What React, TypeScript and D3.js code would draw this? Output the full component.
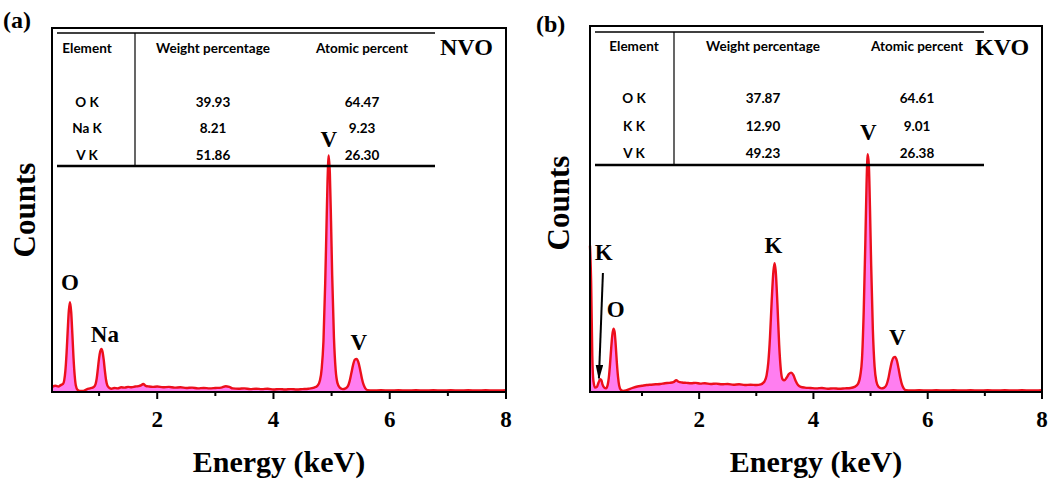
import React from 'react';
import * as d3 from 'd3';

// ---------- data ----------
const nvoSpectrum: [number, number][] = [
  [0.19, 1.4], [0.25, 1.7], [0.30, 1.5], [0.34, 1.9], [0.38, 2.2], [0.40, 3.2], [0.42, 5.8], [0.44, 10.5],
  [0.46, 16.8], [0.48, 22.4], [0.50, 24.7], [0.52, 22.0], [0.54, 16.0], [0.56, 9.4], [0.58, 4.6], [0.60, 1.8],
  [0.63, 0.6], [0.67, 0.3], [0.72, 0.3], [0.77, 0.6], [0.82, 0.9], [0.87, 1.1], [0.91, 1.4], [0.94, 2.2],
  [0.96, 3.8], [0.98, 6.5], [1.00, 9.3], [1.02, 11.2], [1.04, 11.8], [1.06, 11.0], [1.08, 8.8], [1.10, 5.8],
  [1.12, 3.3], [1.14, 1.9], [1.17, 1.2], [1.21, 0.9], [1.26, 1.1], [1.32, 1.0], [1.38, 1.3], [1.44, 1.2],
  [1.50, 1.4], [1.56, 1.3], [1.62, 1.5], [1.68, 1.6], [1.72, 1.8], [1.76, 2.2], [1.80, 1.7], [1.86, 1.5],
  [1.92, 1.4], [2.00, 1.5], [2.10, 1.3], [2.20, 1.4], [2.30, 1.2], [2.40, 1.3], [2.50, 1.1], [2.60, 1.2],
  [2.70, 1.0], [2.80, 1.1], [2.90, 1.0], [3.00, 1.1], [3.10, 1.2], [3.18, 1.6], [3.24, 1.4], [3.30, 1.0],
  [3.40, 0.9], [3.50, 1.0], [3.60, 0.8], [3.70, 0.9], [3.80, 0.8], [3.90, 0.9], [4.00, 0.7], [4.10, 0.8],
  [4.20, 0.7], [4.30, 0.8], [4.40, 0.7], [4.50, 0.8], [4.60, 0.9], [4.70, 1.2], [4.76, 1.8], [4.80, 3.2],
  [4.83, 6.5], [4.86, 14], [4.89, 30], [4.91, 44], [4.93, 58], [4.95, 65], [4.97, 60], [4.99, 47],
  [5.01, 32], [5.04, 15], [5.07, 6], [5.10, 2.5], [5.14, 1.2], [5.19, 0.8], [5.24, 1.0], [5.28, 1.6],
  [5.31, 3.0], [5.34, 5.2], [5.37, 7.5], [5.40, 8.9], [5.43, 9.1], [5.46, 8.2], [5.49, 6.2], [5.52, 3.8],
  [5.55, 2.0], [5.58, 1.0], [5.62, 0.5], [5.70, 0.4], [5.85, 0.5], [6.00, 0.4], [6.15, 0.5], [6.30, 0.4],
  [6.45, 0.5], [6.60, 0.4], [6.75, 0.5], [6.90, 0.4], [7.05, 0.5], [7.20, 0.4], [7.35, 0.5], [7.50, 0.4],
  [7.65, 0.5], [7.80, 0.4], [8.00, 0.5],
];

const kvoSpectrum: [number, number][] = [
  [0.09, 40], [0.11, 30], [0.13, 10], [0.15, 3], [0.18, 1.2], [0.21, 1.4], [0.24, 2.6], [0.27, 3.5],
  [0.29, 3.2], [0.31, 2.0], [0.34, 1.2], [0.37, 1.0], [0.40, 2.0], [0.42, 4.0], [0.44, 7.5], [0.46, 11.8],
  [0.48, 15.5], [0.50, 17.3], [0.52, 16.5], [0.54, 12.8], [0.56, 8.0], [0.58, 4.2], [0.60, 1.8], [0.63, 0.6],
  [0.67, 0.3], [0.72, 0.4], [0.78, 0.8], [0.85, 1.2], [0.92, 1.5], [1.00, 1.7], [1.08, 1.9], [1.16, 2.0],
  [1.24, 2.1], [1.32, 2.2], [1.40, 2.4], [1.48, 2.5], [1.55, 2.7], [1.60, 3.2], [1.64, 2.8], [1.70, 2.6],
  [1.78, 2.5], [1.86, 2.4], [1.94, 2.5], [2.02, 2.3], [2.10, 2.4], [2.20, 2.2], [2.30, 2.3], [2.40, 2.1],
  [2.50, 2.2], [2.60, 2.0], [2.70, 2.1], [2.80, 1.9], [2.90, 2.0], [3.00, 1.9], [3.08, 2.1], [3.14, 2.8],
  [3.18, 4.5], [3.21, 8], [3.24, 15], [3.27, 25], [3.30, 33], [3.32, 35.2], [3.34, 33], [3.37, 24],
  [3.40, 13], [3.43, 6], [3.46, 3.5], [3.49, 3.2], [3.53, 3.9], [3.57, 4.9], [3.61, 5.3], [3.65, 4.6],
  [3.69, 3.0], [3.73, 1.9], [3.78, 1.4], [3.85, 1.2], [3.95, 1.1], [4.05, 1.0], [4.15, 1.1], [4.25, 0.9],
  [4.35, 1.0], [4.45, 0.9], [4.55, 1.0], [4.65, 1.1], [4.72, 1.4], [4.78, 2.2], [4.82, 4.5], [4.85, 9],
  [4.88, 22], [4.91, 42], [4.93, 57], [4.95, 65], [4.97, 62], [4.99, 50], [5.01, 35], [5.04, 17],
  [5.07, 7], [5.10, 3], [5.14, 1.4], [5.19, 1.0], [5.24, 1.2], [5.28, 2.0], [5.31, 3.6], [5.34, 6.0],
  [5.37, 8.2], [5.40, 9.4], [5.43, 9.6], [5.46, 8.6], [5.49, 6.4], [5.52, 3.9], [5.55, 2.0], [5.58, 1.0],
  [5.62, 0.5], [5.70, 0.4], [5.85, 0.5], [6.00, 0.4], [6.15, 0.5], [6.30, 0.4], [6.45, 0.5], [6.60, 0.4],
  [6.75, 0.5], [6.90, 0.4], [7.05, 0.5], [7.20, 0.4], [7.35, 0.5], [7.50, 0.4], [7.65, 0.5], [7.80, 0.4],
  [8.00, 0.5],
];

const xMajorTicks = [2, 4, 6, 8];
const xMinorTicks = [1, 3, 5, 7];
const tableHeaders = ['Element', 'Weight percentage', 'Atomic percent'];

const nvoElements = ['O K', 'Na K', 'V K'];
const nvoWeight = ['39.93', '8.21', '51.86'];
const nvoAtomic = ['64.47', '9.23', '26.30'];

const kvoElements = ['O K', 'K K', 'V K'];
const kvoWeight = ['37.87', '12.90', '49.23'];
const kvoAtomic = ['64.61', '9.01', '26.38'];

// peak annotations: text, energy (keV), counts level of text baseline
const nvoPeakLabels = [
  { text: 'O', e: 0.5, c: 28 },
  { text: 'Na', e: 1.1, c: 13.7 },
  { text: 'V', e: 4.95, c: 67.3 },
  { text: 'V', e: 5.47, c: 11.5 },
];
const kvoPeakLabels = [
  { text: 'K', e: 0.33, c: 36 },
  { text: 'O', e: 0.54, c: 20.5 },
  { text: 'K', e: 3.3, c: 38 },
  { text: 'V', e: 4.96, c: 68.9 },
  { text: 'V', e: 5.47, c: 12.8 },
];
const kvoArrows = [{ e0: 0.316, c0: 32.5, e1: 0.246, c1: 3.8 }];

// ---------- layout ----------
const SERIF = '"Liberation Serif", "Times New Roman", serif';
const SANS = 'Lato, "Open Sans", sans-serif';
const LINE = '#ec0f1c';
const FILL = '#ff7ef0';
const TFS = 13.5;

type PanelProps = {
  tag: string;
  tagX: number;
  tagY: number;
  left: number;
  right: number;
  top: number;
  bottom: number;
  xMin: number;
  spectrum: [number, number][];
  labels: { text: string; e: number; c: number }[];
  arrows: { e0: number; c0: number; e1: number; c1: number }[];
  sample: string;
  sampleX: number;
  table: {
    x0: number; x1: number; topY: number; botY: number; divX: number;
    colX: number[]; headerY: number; rowY: number[];
    elements: string[]; weight: string[]; atomic: string[];
  };
  countsX: number;
  countsY: number;
};

function Panel(p: PanelProps) {
  const x = d3.scaleLinear().domain([p.xMin, 8]).range([p.left, p.right]);
  const y = d3.scaleLinear().domain([0, 100]).range([p.bottom, p.top]);
  const area = d3.area<[number, number]>()
    .x(d => x(d[0])).y0(y(0)).y1(d => y(d[1])).curve(d3.curveMonotoneX);
  const line = d3.line<[number, number]>()
    .x(d => x(d[0])).y(d => y(d[1])).curve(d3.curveMonotoneX);
  const t = p.table;
  const cx = (p.left + p.right) / 2;
  return (
    <g>
      <path d={area(p.spectrum) || ''} fill={FILL} stroke="none" />
      <path d={line(p.spectrum) || ''} fill="none" stroke={LINE} strokeWidth={2.4} strokeLinejoin="round" />
      {/* frame */}
      <rect x={p.left} y={p.top} width={p.right - p.left} height={p.bottom - p.top} fill="none" stroke="#000" strokeWidth={2} />
      {xMajorTicks.map(v => (
        <g key={'M' + v}>
          <line x1={x(v)} x2={x(v)} y1={p.bottom} y2={p.bottom + 7} stroke="#000" strokeWidth={2} />
          <text x={x(v)} y={427} textAnchor="middle" fontFamily={SERIF} fontWeight="bold" fontSize={23}>{v}</text>
        </g>
      ))}
      {xMinorTicks.map(v => (
        <line key={'m' + v} x1={x(v)} x2={x(v)} y1={p.bottom} y2={p.bottom + 4} stroke="#000" strokeWidth={2} />
      ))}
      <text x={cx} y={472} textAnchor="middle" fontFamily={SERIF} fontWeight="bold" fontSize={30}>Energy (keV)</text>
      <text transform={`translate(${p.countsX},${p.countsY}) rotate(-90)`} textAnchor="middle" fontFamily={SERIF} fontWeight="bold" fontSize={31}>Counts</text>
      <text x={p.tagX} y={p.tagY} fontFamily={SERIF} fontWeight="bold" fontSize={24}>{p.tag}</text>
      {/* table */}
      <line x1={t.x0} x2={t.x1} y1={t.topY} y2={t.topY} stroke="#000" strokeWidth={1.6} />
      <line x1={t.x0} x2={t.x1} y1={t.botY} y2={t.botY} stroke="#000" strokeWidth={2.4} />
      <line x1={t.divX} x2={t.divX} y1={t.topY} y2={t.botY} stroke="#000" strokeWidth={1.2} />
      {tableHeaders.map((h, i) => (
        <text key={h} x={t.colX[i]} y={t.headerY} textAnchor="middle" fontFamily={SANS} fontWeight={700} fontSize={TFS}>{h}</text>
      ))}
      {t.elements.map((el, r) => (
        <g key={el}>
          <text x={t.colX[0]} y={t.rowY[r]} textAnchor="middle" fontFamily={SANS} fontWeight={700} fontSize={TFS}>{el}</text>
          <text x={t.colX[1]} y={t.rowY[r]} textAnchor="middle" fontFamily={SANS} fontWeight={700} fontSize={TFS}>{t.weight[r]}</text>
          <text x={t.colX[2]} y={t.rowY[r]} textAnchor="middle" fontFamily={SANS} fontWeight={700} fontSize={TFS}>{t.atomic[r]}</text>
        </g>
      ))}
      <text x={p.sampleX} y={55} fontFamily={SERIF} fontWeight="bold" fontSize={24}>{p.sample}</text>
      {/* peak labels */}
      {p.labels.map((l, i) => (
        <text key={i} x={x(l.e)} y={y(l.c)} textAnchor="middle" fontFamily={SERIF} fontWeight="bold" fontSize={23}>{l.text}</text>
      ))}
      {p.arrows.map((a, i) => (
        <line key={i} x1={x(a.e0)} y1={y(a.c0)} x2={x(a.e1)} y2={y(a.c1)} stroke="#000" strokeWidth={2} markerEnd="url(#arrowHead)" />
      ))}
    </g>
  );
}

export default function App() {
  return (
    <svg width={1056} height={483} style={{ position: 'absolute', left: 0, top: 0, background: '#fff' }}>
      <defs>
        <marker id="arrowHead" viewBox="0 0 16 8" refX="14" refY="4" markerWidth="7.5" markerHeight="4" orient="auto" markerUnits="strokeWidth">
          <path d="M0,0 L16,4 L0,8 z" fill="#000" />
        </marker>
      </defs>
      <rect x={0} y={0} width={1056} height={483} fill="#fff" />
      <Panel
        tag="(a)" tagX={3} tagY={28}
        left={52} right={506} top={28} bottom={392} xMin={0.19}
        spectrum={nvoSpectrum} labels={nvoPeakLabels} arrows={[]}
        sample="NVO" sampleX={440}
        table={{
          x0: 57, x1: 435, topY: 33, botY: 166, divX: 135,
          colX: [87, 213, 362], headerY: 53, rowY: [106.5, 133, 159.5],
          elements: nvoElements, weight: nvoWeight, atomic: nvoAtomic,
        }}
        countsX={35} countsY={210}
      />
      <Panel
        tag="(b)" tagX={536} tagY={32}
        left={590} right={1042} top={26} bottom={392} xMin={0.09}
        spectrum={kvoSpectrum} labels={kvoPeakLabels} arrows={kvoArrows}
        sample="KVO" sampleX={975}
        table={{
          x0: 595, x1: 984, topY: 32, botY: 165, divX: 674,
          colX: [634, 763, 917], headerY: 51, rowY: [103, 131, 157.5],
          elements: kvoElements, weight: kvoWeight, atomic: kvoAtomic,
        }}
        countsX={569} countsY={203}
      />
    </svg>
  );
}
